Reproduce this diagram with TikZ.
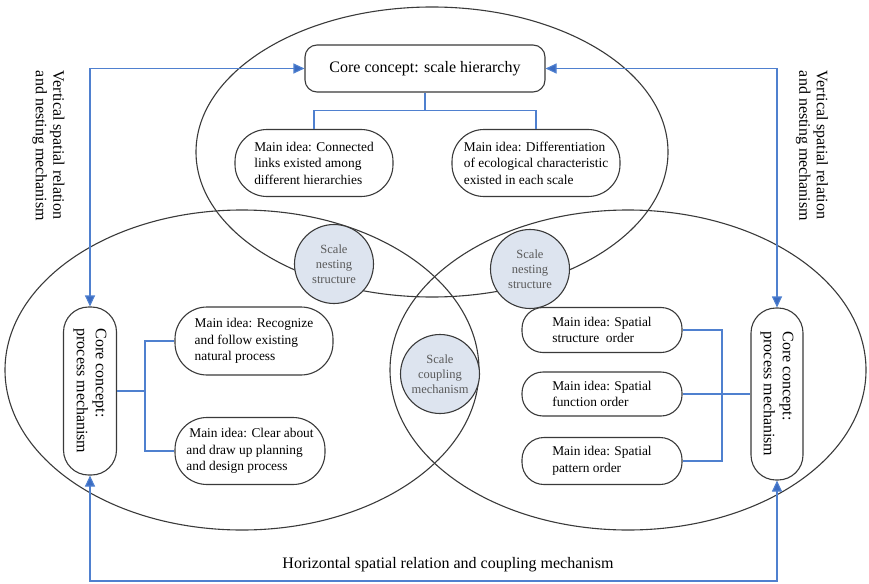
\documentclass[tikz,border=0pt]{standalone}
\usepackage{fontspec}
\setmainfont{Liberation Serif}
\usetikzlibrary{arrows.meta}
\definecolor{linkblue}{HTML}{4F80CF}
\definecolor{tipblue}{HTML}{3B6CC2}
\definecolor{circfill}{HTML}{DDE4EF}
\definecolor{edgegray}{HTML}{3A3A3A}
\begin{document}
\begin{tikzpicture}[x=1pt,y=-1pt,
  ell/.style={draw=edgegray, line width=1.1pt},
  conn/.style={draw=linkblue, line width=1.1pt},
  arr/.style={conn, {Triangle[length=11pt,width=10pt,fill=tipblue]}-{Triangle[length=11pt,width=10pt,fill=tipblue]}},
  box/.style={draw=edgegray, line width=1.1pt, fill=white, inner sep=0pt, align=left,
    font=\fontsize{13.4}{16.5}\selectfont},
  bigbox/.style={draw=edgegray, line width=1.1pt, fill=white, inner sep=0pt,
    font=\fontsize{16}{19}\selectfont},
  circ/.style={circle, draw=edgegray, line width=1.1pt, fill=circfill, inner sep=0pt,
    minimum size=79pt, align=center, text=black!65, font=\fontsize{12.5}{15}\selectfont},
  sidetext/.style={rotate=-90, align=left, font=\fontsize{16}{17.5}\selectfont}
]
\useasboundingbox (0,0) rectangle (869,583);

% ellipses
\draw[ell] (432,152) ellipse [x radius=236, y radius=145];
\draw[ell] (242,370) ellipse [x radius=237, y radius=160];
\draw[ell] (628,370) ellipse [x radius=238, y radius=160];

% circles
\node[circ] (cn1) at (334,264) {Scale\\nesting\\structure};
\node[circ] (cn2) at (530,269) {Scale\\nesting\\structure};
\node[circ] (cc) at (440,374) {Scale\\coupling\\mechanism};

% top group
\node[bigbox, rounded corners=12pt, minimum width=240pt, minimum height=47pt] (core) at (425,68.5) {Core concept: scale hierarchy};
\node[box, rounded corners=32pt, minimum width=158pt, minimum height=67pt] (mi1) at (314,163) {Main idea: Connected\\links existed among\\different hierarchies};
\node[box, rounded corners=32pt, minimum width=168pt, minimum height=67pt] (mi2) at (536,163) {Main idea: Differentiation\\of ecological characteristic\\existed in each scale};

% left group
\node[bigbox, rounded corners=25pt, minimum width=53pt, minimum height=168pt] (pl) at (90,391) {};
\node[rotate=-90, align=left, font=\fontsize{16}{19}\selectfont] (plt) at (pl.center) {Core concept:\\process mechanism};
\node[box, rounded corners=32pt, minimum width=158pt, minimum height=68pt] (ml1) at (254,341) {Main idea: Recognize\\and follow existing\\natural process};
\node[box, rounded corners=32pt, minimum width=150pt, minimum height=67pt] (ml2) at (250,451) {\hspace{3pt}Main idea: Clear about\\and draw up planning\\and design process};

% right group
\node[bigbox, rounded corners=25pt, minimum width=52pt, minimum height=172pt] (pr) at (777,394) {};
\node[rotate=-90, align=left, font=\fontsize{16}{19}\selectfont] (prt) at (pr.center) {Core concept:\\process mechanism};
\node[box, rounded corners=21pt, minimum width=160pt, minimum height=45pt] (mr1) at (602,330) {Main idea: Spatial\\structure\ \ order};
\node[box, rounded corners=21pt, minimum width=160pt, minimum height=44pt] (mr2) at (602,394) {Main idea: Spatial\\function order};
\node[box, rounded corners=22pt, minimum width=160pt, minimum height=47pt] (mr3) at (602,461) {Main idea: Spatial\\pattern order};

% side texts
\node[sidetext] (lt) at (48.5,146) {Vertical spatial relation\\and nesting mechanism};
\node[sidetext] (rt) at (812,146) {Vertical spatial relation\\and nesting mechanism};
\node[font=\fontsize{16}{19}\selectfont] (bt) at (448,565) {Horizontal spatial relation and coupling mechanism};

% tree connectors
\draw[conn] (core.south) -- ++(0,18) -| (mi1.north);
\draw[conn] (core.south) -- ++(0,18) -| (mi2.north);
\coordinate (jl) at (145,391);
\draw[conn] (pl.east) -- (jl);
\draw[conn] (jl) |- (ml1.west);
\draw[conn] (jl) |- (ml2.west);
\coordinate (jr) at (722,394);
\draw[conn] (mr2.east) -- (pr.west);
\draw[conn] (jr) |- (mr1.east);
\draw[conn] (jr) |- (mr3.east);

% outer arrows
\draw[arr] (core.west) -| (pl.north);
\draw[arr] (core.east) -| (pr.north);
\coordinate (bl) at (90,581);
\draw[arr] (pl.south) |- (bl) -| (pr.south);
\end{tikzpicture}
\end{document}
